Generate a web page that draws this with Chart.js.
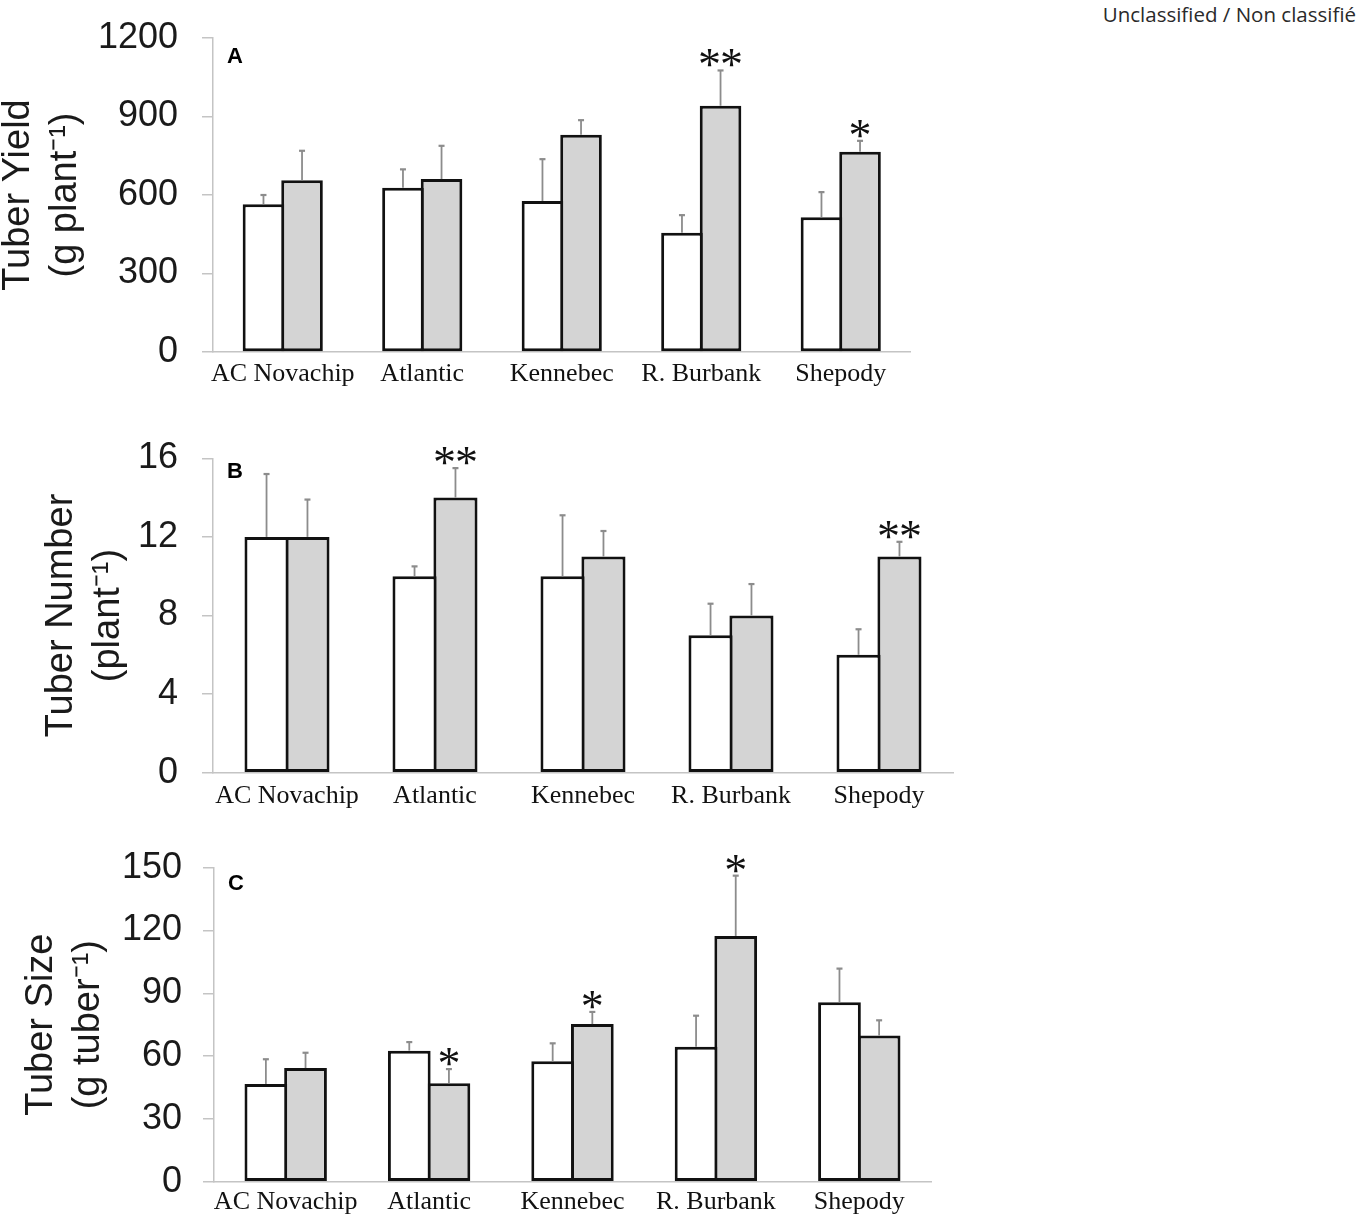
<!DOCTYPE html>
<html>
<head>
<meta charset="utf-8">
<script src="https://cdn.jsdelivr.net/npm/chart.js"></script>
<style>
  body { margin: 0; background: #fff; }
  #page { position: relative; width: 1358px; height: 1216px; overflow: hidden; }
  .panel { position: absolute; left: 0; }
  #note { position: absolute; right: 2px; top: 0px; font: 20.5px "Open Sans", sans-serif; color: #2a2a2a; }
</style>
</head>
<body>
<div id="page">
  <div id="note">Unclassified / Non classifié</div>
  <canvas id="chartA" class="panel" style="top:0px" width="1000" height="400"></canvas>
  <canvas id="chartB" class="panel" style="top:420px" width="1000" height="400"></canvas>
  <canvas id="chartC" class="panel" style="top:830px" width="1000" height="386"></canvas>
</div>
<script>
// cultivars
const cultivars = ['AC Novachip', 'Atlantic', 'Kennebec', 'R. Burbank', 'Shepody'];

// A - tuber yield (g plant-1)
const yieldWhite = [565, 628, 577, 456, 515];
const yieldWhiteErr = [35, 70, 160, 67, 96];
const yieldGray = [656, 661, 830, 941, 765];
const yieldGrayErr = [113, 127, 56, 135, 42];
const yieldStars = ['', '', '', '**', '*'];
const yieldTicks = [0, 300, 600, 900, 1200];

// B - tuber number (plant-1)
const numberWhite = [12, 10, 10, 7, 6];
const numberWhiteErr = [3.2, 0.5, 3.1, 1.6, 1.3];
const numberGray = [12, 14, 11, 8, 11];
const numberGrayErr = [1.9, 1.5, 1.3, 1.6, 0.75];
const numberStars = ['', '**', '', '', '**'];
const numberTicks = [0, 4, 8, 12, 16];

// C - tuber size (g tuber-1)
const sizeWhite = [46.7, 62.6, 57.5, 64.5, 85.7];
const sizeWhiteErr = [11.8, 4.1, 8.6, 14.8, 16.1];
const sizeGray = [54.3, 47.0, 75.3, 117.4, 69.8];
const sizeGrayErr = [7.3, 6.8, 5.8, 28.8, 7.3];
const sizeStars = ['', '*', '*', '*', ''];
const sizeTicks = [0, 30, 60, 90, 120, 150];

const SANS = '"Liberation Sans", Arial, sans-serif';
const SERIF = '"Liberation Serif", "Times New Roman", serif';
const AXIS_GRAY = '#c4c4c4';

// error bars (upward only) plus significance stars
const errorBars = {
  id: 'errorBars',
  afterDatasetsDraw(chart) {
    const ctx = chart.ctx;
    const y = chart.scales.y;
    chart.data.datasets.forEach((ds, i) => {
      const meta = chart.getDatasetMeta(i);
      meta.data.forEach((bar, j) => {
        const top = y.getPixelForValue(ds.data[j] + ds.errors[j]);
        ctx.save();
        ctx.strokeStyle = '#8c8c8c';
        ctx.lineWidth = 1.8;
        ctx.beginPath();
        ctx.moveTo(bar.x, bar.y);
        ctx.lineTo(bar.x, top);
        ctx.stroke();
        ctx.lineWidth = 2.2;
        ctx.beginPath();
        ctx.moveTo(bar.x - 3, top);
        ctx.lineTo(bar.x + 3, top);
        ctx.stroke();
        if (ds.stars && ds.stars[j]) {
          ctx.font = '46px ' + SERIF;
          ctx.fillStyle = '#111';
          ctx.textAlign = 'center';
          ctx.textBaseline = 'alphabetic';
          const m = ctx.measureText('*');
          const base = top - 3 - m.actualBoundingBoxDescent;
          const n = ds.stars[j].length;
          for (let k = 0; k < n; k++) {
            const cx = bar.x + (k - (n - 1) / 2) * 22;
            ctx.fillText('*', cx, base);
          }
        }
        ctx.restore();
      });
    });
  }
};

// panel letter inside the plot area
const panelLetter = {
  id: 'panelLetter',
  afterDraw(chart, args, opts) {
    const ctx = chart.ctx;
    const a = chart.chartArea;
    ctx.save();
    ctx.font = 'bold 22px ' + SANS;
    ctx.fillStyle = '#000';
    ctx.textAlign = 'left';
    ctx.textBaseline = 'alphabetic';
    ctx.fillText(opts.text, a.left + opts.dx, a.top + opts.dy);
    ctx.restore();
  }
};

function makePanel(id, cfg) {
  const canvas = document.getElementById(id);
  const barOpts = {
    borderColor: '#111111',
    borderWidth: 3,
    borderSkipped: false,
    barPercentage: 1.078,
    categoryPercentage: 0.553
  };
  return new Chart(canvas.getContext('2d'), {
    type: 'bar',
    data: {
      labels: cultivars,
      datasets: [
        Object.assign({data: cfg.white, errors: cfg.whiteErr, backgroundColor: '#ffffff'}, barOpts),
        Object.assign({data: cfg.gray, errors: cfg.grayErr, stars: cfg.stars, backgroundColor: '#d4d4d4'}, barOpts)
      ]
    },
    options: {
      responsive: false,
      animation: false,
      events: [],
      layout: {padding: {left: 0, top: cfg.top, right: cfg.right, bottom: 0}},
      plugins: {
        legend: {display: false},
        tooltip: {enabled: false},
        panelLetter: cfg.letter
      },
      scales: {
        x: {
          grid: {display: false, drawTicks: false},
          border: {display: true, color: AXIS_GRAY, width: 1.5},
          ticks: {color: '#111', padding: cfg.xPad, font: {family: SERIF, size: 26}, maxRotation: 0, autoSkip: false},
          afterFit: (s) => { s.height = cfg.xHeight; s.paddingLeft = 0; s.paddingRight = 0; }
        },
        y: {
          min: 0,
          max: cfg.ticks[cfg.ticks.length - 1],
          afterBuildTicks: (s) => { s.ticks = cfg.ticks.map(v => ({value: v})); },
          grid: {drawOnChartArea: false, drawTicks: true, tickLength: 11, color: AXIS_GRAY, lineWidth: 1.5},
          border: {display: true, color: AXIS_GRAY, width: 1.5},
          ticks: {
            color: '#1a1a1a', padding: cfg.tickPad, font: {family: SANS, size: 36},
            callback: (v) => String(v)
          },
          title: {
            display: true,
            text: cfg.title,
            color: '#1a1a1a',
            font: {family: SANS, size: 38, lineHeight: '47px'},
            padding: {top: cfg.titlePad, bottom: 0}
          },
          afterFit: (s) => { s.width = cfg.left; s.paddingTop = 0; s.paddingBottom = 0; }
        }
      }
    },
    plugins: [errorBars, panelLetter]
  });
}

makePanel('chartA', {
  white: yieldWhite, whiteErr: yieldWhiteErr, gray: yieldGray, grayErr: yieldGrayErr,
  stars: yieldStars, ticks: yieldTicks,
  title: ['Tuber Yield', '(g plant\u207B\u00B9)'],
  top: 38, right: 89.5, left: 213, xHeight: 48, xPad: 7, tickPad: 24, titlePad: -5,
  letter: {text: 'A', dx: 14, dy: 25}
});

makePanel('chartB', {
  white: numberWhite, whiteErr: numberWhiteErr, gray: numberGray, grayErr: numberGrayErr,
  stars: numberStars, ticks: numberTicks,
  title: ['Tuber Number', '(plant\u207B\u00B9)'],
  top: 38.3, right: 47, left: 213, xHeight: 47.3, xPad: 8, tickPad: 24, titlePad: 38.5,
  letter: {text: 'B', dx: 14, dy: 20}
});

makePanel('chartC', {
  white: sizeWhite, whiteErr: sizeWhiteErr, gray: sizeGray, grayErr: sizeGrayErr,
  stars: sizeStars, ticks: sizeTicks,
  title: ['Tuber Size', '(g tuber\u207B\u00B9)'],
  top: 37.7, right: 69, left: 214, xHeight: 34.3, xPad: 5, tickPad: 21, titlePad: 18.5,
  letter: {text: 'C', dx: 14, dy: 22}
});
</script>
</body>
</html>
